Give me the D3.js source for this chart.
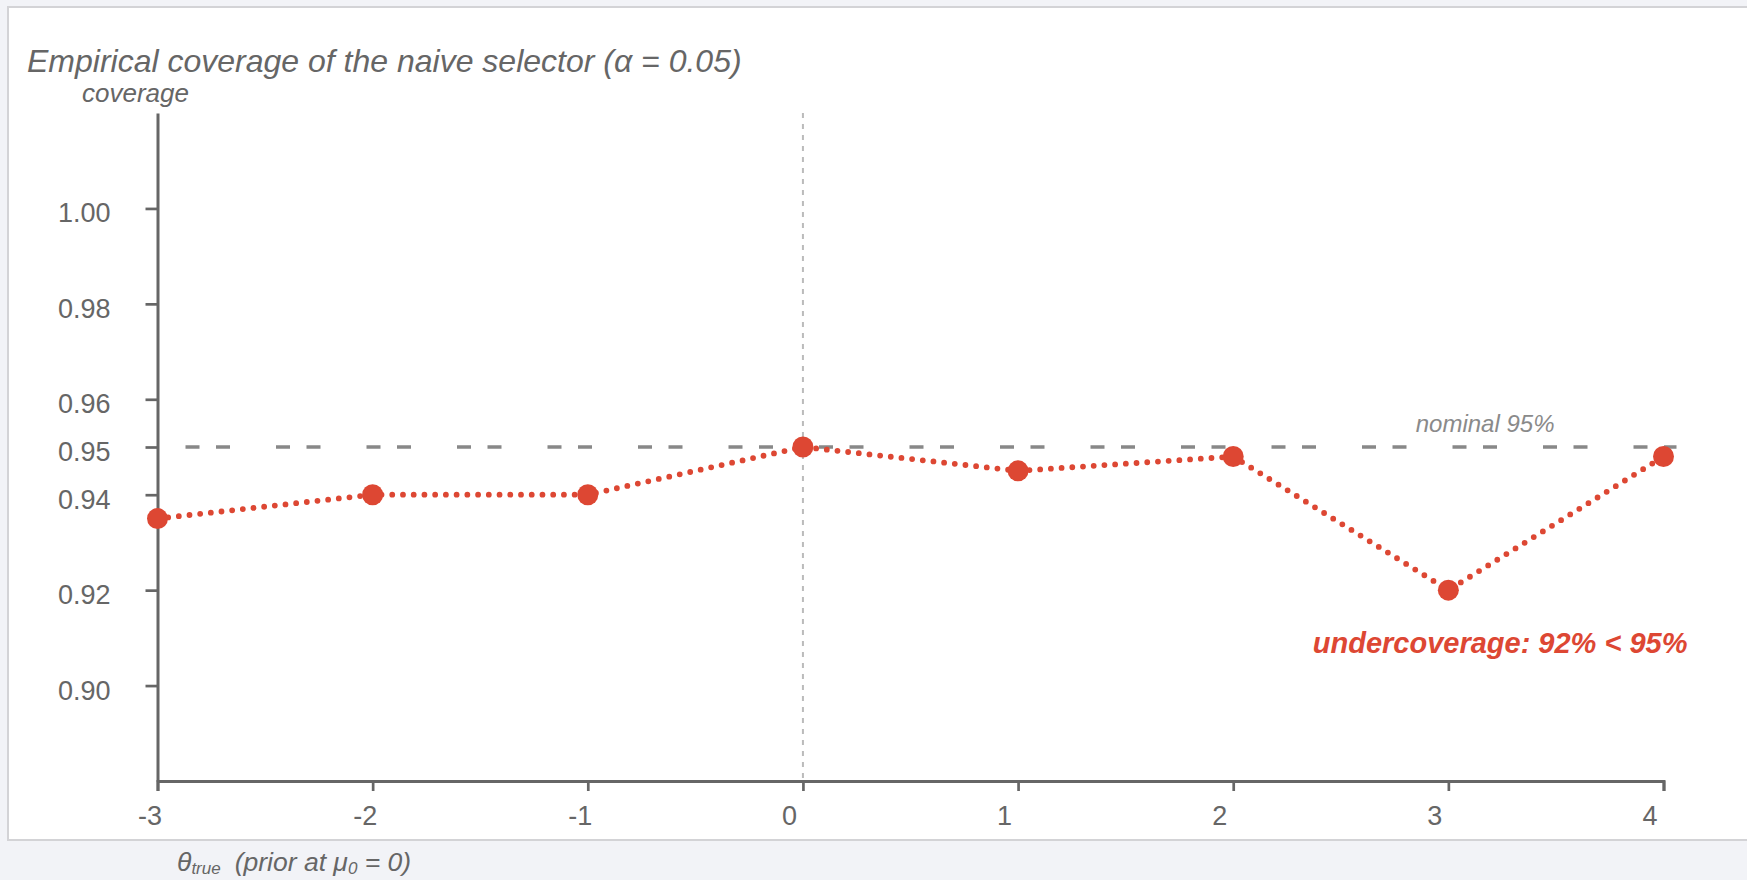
<!DOCTYPE html>
<html>
<head>
<meta charset="utf-8">
<script src="https://cdn.jsdelivr.net/npm/d3@7"></script>
<style>
  html, body { margin: 0; padding: 0; background: #f2f3f7; }
  svg { display: block; }
  text { font-family: "Liberation Sans", Arial, Helvetica, sans-serif; }
</style>
</head>
<body>
<svg id="chart" width="1747" height="880"></svg>
<script>
// θ_true grid and empirical coverage of the naive selector at each value
const thetaValues = [-3, -2, -1, 0, 1, 2, 3, 4];
const coverageValues = [0.935, 0.940, 0.940, 0.950, 0.945, 0.948, 0.920, 0.948];
const yTickValues = [0.90, 0.92, 0.94, 0.95, 0.96, 0.98, 1.00];
const xTickValues = [-3, -2, -1, 0, 1, 2, 3, 4];
const nominalLevel = 0.95;
const priorMean = 0;
const worstCoverage = 0.92;

const svg = d3.select("#chart");
const W = 1747;
const red = "#dd4733";
const axisGrey = "#666";

// card panel
svg.append("rect")
  .attr("x", 8).attr("y", 7)
  .attr("width", W + 20).attr("height", 833)
  .attr("fill", "#fff")
  .attr("stroke", "#d3d3d6").attr("stroke-width", 2);

const x = d3.scaleLinear().domain([-3, 4]).range([157.5, 1663.5]);
const y = d3.scaleLinear().domain([0.88, 1.02]).range([781, 113]);

// title and axis captions
svg.append("text")
  .attr("x", 27).attr("y", 72)
  .attr("font-size", 32).attr("font-style", "italic")
  .attr("fill", "#666")
  .text("Empirical coverage of the naive selector (α = 0.05)");

svg.append("text")
  .attr("x", 82).attr("y", 102)
  .attr("font-size", 26).attr("font-style", "italic")
  .attr("fill", "#666")
  .text("coverage");

const xl = svg.append("text")
  .attr("x", 177).attr("y", 871)
  .attr("font-size", 26.5).attr("font-style", "italic")
  .attr("fill", "#666");
xl.append("tspan").text("θ");
xl.append("tspan").attr("font-size", 17).attr("dy", 3).text("true");
xl.append("tspan").attr("dy", -3).attr("dx", 14).text("(prior at μ");
xl.append("tspan").attr("font-size", 17).attr("dy", 3).text(String(priorMean));
xl.append("tspan").attr("dy", -3).text(" = " + priorMean + ")");

// reference lines: prior mean and nominal level
svg.append("line")
  .attr("x1", x(priorMean)).attr("x2", x(priorMean))
  .attr("y1", y.range()[1]).attr("y2", y.range()[0])
  .attr("stroke", "#bbb").attr("stroke-width", 2)
  .attr("stroke-dasharray", "5 6");

svg.append("line")
  .attr("x1", x(-3)).attr("x2", x(4) + 13)
  .attr("y1", y(nominalLevel)).attr("y2", y(nominalLevel))
  .attr("stroke", "#888").attr("stroke-width", 3.5)
  .attr("stroke-dasharray", "14 16.5 14 46")
  .attr("stroke-dashoffset", 62.5);

svg.append("text")
  .attr("x", x(4) - 109).attr("y", y(nominalLevel) - 15)
  .attr("text-anchor", "end")
  .attr("font-size", 24).attr("font-style", "italic")
  .attr("fill", "#8a8a8a")
  .text("nominal 95%");

// axes
const gx = svg.append("g")
  .attr("transform", `translate(0,${y.range()[0]})`)
  .call(d3.axisBottom(x).tickValues(xTickValues).tickSize(10).tickSizeOuter(10)
    .tickFormat(d => String(d)));
const gy = svg.append("g")
  .attr("transform", `translate(${x.range()[0]},0)`)
  .call(d3.axisLeft(y).tickValues(yTickValues).tickSize(12).tickSizeOuter(0)
    .tickPadding(35).tickFormat(d3.format(".2f")));

[gx, gy].forEach(g => {
  g.select(".domain").attr("stroke", axisGrey).attr("stroke-width", 3);
  g.selectAll(".tick line").attr("stroke", axisGrey).attr("stroke-width", 2.7);
  g.selectAll(".tick text")
    .attr("fill", axisGrey)
    .attr("font-size", 27)
    .attr("font-family", "'Liberation Sans', Arial, sans-serif");
});
gx.selectAll(".tick text").attr("y", 44).attr("dy", 0)
  .attr("dx", d => (d < 0 ? -8 : -14));
gy.selectAll(".tick text").attr("dy", "0.5em");

// coverage series: dotted path with round dots, then markers
const pts = thetaValues.map((t, i) => [t, coverageValues[i]]);
svg.append("path")
  .datum(pts)
  .attr("fill", "none")
  .attr("stroke", red)
  .attr("stroke-width", 5.8)
  .attr("stroke-linecap", "round")
  .attr("stroke-dasharray", "0 10.73")
  .attr("d", d3.line().x(d => x(d[0])).y(d => y(d[1])));

svg.append("g").selectAll("circle")
  .data(pts)
  .join("circle")
  .attr("cx", d => x(d[0]))
  .attr("cy", d => y(d[1]))
  .attr("r", 10.5)
  .attr("fill", red);

svg.append("text")
  .attr("x", x(4) + 24).attr("y", y(worstCoverage) + 63)
  .attr("text-anchor", "end")
  .attr("font-size", 29).attr("font-weight", "bold").attr("font-style", "italic")
  .attr("fill", red)
  .text(`undercoverage: ${Math.round(worstCoverage * 100)}% < ${Math.round(nominalLevel * 100)}%`);
</script>
</body>
</html>
